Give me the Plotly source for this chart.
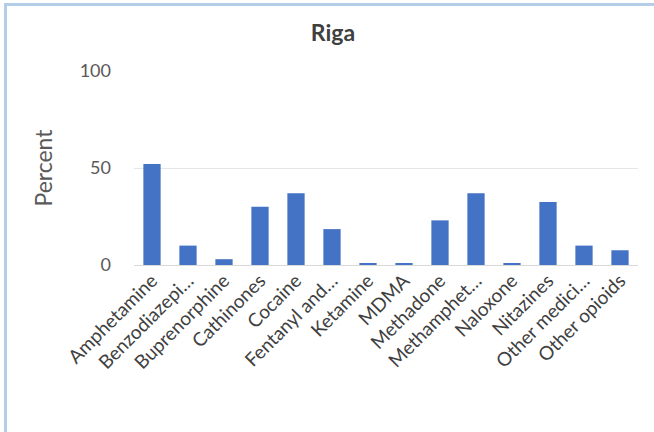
import plotly.graph_objects as go

categories = ["Amphetamine", "Benzodiazepi…", "Buprenorphine", "Cathinones", "Cocaine",
              "Fentanyl and…", "Ketamine", "MDMA", "Methadone", "Methamphet…",
              "Naloxone", "Nitazines", "Other medici…", "Other opioids"]
values = [52, 10, 3, 30, 37, 18.5, 1, 1, 23, 37, 1, 32.5, 10, 7.6]
y_ticks = [0, 50, 100]

FONT = "Lato"
fig = go.Figure(go.Bar(x=categories, y=values, marker=dict(color="#4472C4", line=dict(width=0)),
                       width=0.48))

L, R, T, B = 134, 16, 71, 167
W, H = 654, 432
pw, ph = W - L - R, H - T - B

def px(x):
    return (x - L) / pw

def py(y):
    return (H - B - y) / ph

border = "#B4CDE8"
fig.add_shape(type="line", xref="paper", yref="paper", x0=px(4), x1=px(654), y0=py(4.5), y1=py(4.5),
              line=dict(color=border, width=3), layer="above")
fig.add_shape(type="line", xref="paper", yref="paper", x0=px(5.5), x1=px(5.5), y0=py(3), y1=py(432),
              line=dict(color=border, width=3), layer="above")

fig.update_layout(
    width=W, height=H,
    margin=dict(l=L, r=R, t=T, b=B, autoexpand=False),
    paper_bgcolor="white", plot_bgcolor="white",
    font=dict(family=FONT, color="#595959"),
    title=dict(text="<b>Riga</b>", x=333 / W, xanchor="center", y=1 - 33 / H, yanchor="middle",
               font=dict(size=23, color="#404040", family=FONT)),
    showlegend=False,
    bargap=0.52,
)
fig.update_xaxes(tickangle=-45, tickfont=dict(size=19, color="#404040", family=FONT),
                 showgrid=False, showline=False, ticks="", automargin=False)
fig.update_yaxes(range=[0, 100], tickvals=y_ticks, ticktext=[str(v) for v in y_ticks],
                 tickfont=dict(size=18, color="#595959", family=FONT),
                 showgrid=True, gridcolor="#E6E6E6", gridwidth=1,
                 zeroline=True, zerolinecolor="#D9D9D9", zerolinewidth=1,
                 showline=False, ticks="", ticklabelstandoff=22, automargin=False,
                 title=dict(text="Percent", font=dict(size=23, color="#595959", family=FONT), standoff=20))

fig.write_html("out.html", config={"displayModeBar": False},
               post_script="document.body.style.margin='0';document.body.style.overflow='hidden';")
